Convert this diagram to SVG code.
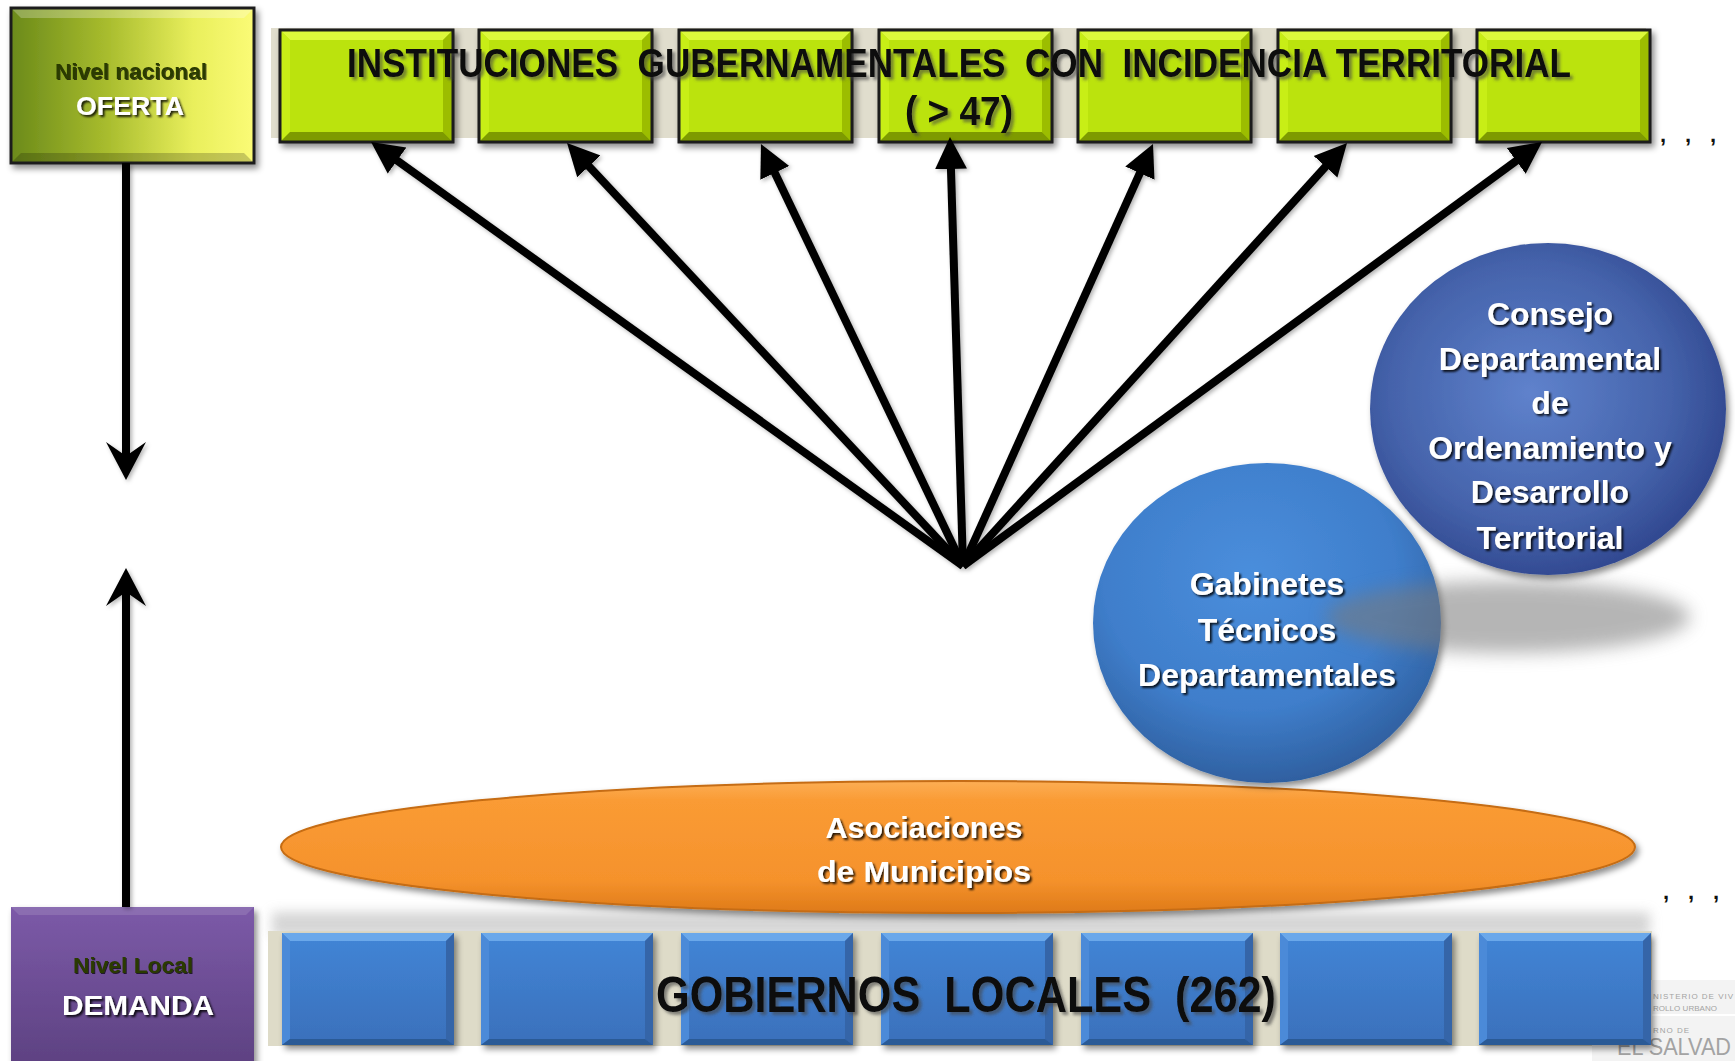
<svg xmlns="http://www.w3.org/2000/svg" xmlns:xlink="http://www.w3.org/1999/xlink" width="1735" height="1061" viewBox="0 0 1735 1061">
<style>
  .t { font-family: "Liberation Sans", Arial, sans-serif; font-weight: bold; text-anchor: middle; }
  .w { fill: #ffffff; filter: url(#tsd); }
  .blk { fill: #0a0a0a; filter: url(#tsg); }
  .olive { fill: #2c3a04; filter: url(#tsl); }
  .arrow { stroke: #000; stroke-width: 8; fill: none; stroke-linecap: butt; }
  .logo { font-family: "Liberation Sans", Arial, sans-serif; fill: #a3a3a3; }
  .dots { font-family: "Liberation Sans", Arial, sans-serif; font-weight: bold; font-size: 22px; fill: #111; }
</style>
<defs>
  <filter id="sh" x="-10%" y="-10%" width="130%" height="130%">
    <feDropShadow dx="3" dy="4" stdDeviation="3" flood-color="#000" flood-opacity="0.45"/>
  </filter>
  <filter id="ashd" x="-10%" y="-10%" width="130%" height="130%">
    <feDropShadow dx="2" dy="2" stdDeviation="2" flood-color="#000" flood-opacity="0.3"/>
  </filter>
  <filter id="tsd" x="-10%" y="-20%" width="130%" height="150%">
    <feDropShadow dx="2" dy="2" stdDeviation="0.8" flood-color="#000" flood-opacity="0.85"/>
  </filter>
  <filter id="tsg" x="-10%" y="-20%" width="130%" height="150%">
    <feDropShadow dx="3" dy="3" stdDeviation="1.5" flood-color="#444" flood-opacity="0.6"/>
  </filter>
  <filter id="tsl" x="-10%" y="-20%" width="130%" height="150%">
    <feDropShadow dx="1" dy="1" stdDeviation="0.6" flood-color="#000" flood-opacity="0.7"/>
  </filter>
  <filter id="blur8" x="-30%" y="-100%" width="160%" height="300%">
    <feGaussianBlur stdDeviation="9"/>
  </filter>
  <filter id="blur5" x="-10%" y="-100%" width="120%" height="300%">
    <feGaussianBlur stdDeviation="6"/>
  </filter>
  <linearGradient id="natGrad" x1="0" y1="0" x2="1" y2="0">
    <stop offset="0" stop-color="#6b8a1a"/>
    <stop offset="0.4" stop-color="#a9bd2e"/>
    <stop offset="0.75" stop-color="#e9ef5c"/>
    <stop offset="1" stop-color="#fbfb76"/>
  </linearGradient>
  <linearGradient id="purGrad" x1="0" y1="0" x2="0" y2="1">
    <stop offset="0" stop-color="#7c5aa8"/>
    <stop offset="1" stop-color="#5d4181"/>
  </linearGradient>
  <linearGradient id="blueGrad" x1="0" y1="0" x2="0" y2="1">
    <stop offset="0" stop-color="#4285d6"/>
    <stop offset="1" stop-color="#3a70bb"/>
  </linearGradient>
  <linearGradient id="orGrad" x1="0" y1="0" x2="0" y2="1">
    <stop offset="0" stop-color="#fcae55"/>
    <stop offset="0.15" stop-color="#fa9b34"/>
    <stop offset="0.75" stop-color="#f5922c"/>
    <stop offset="1" stop-color="#de7a18"/>
  </linearGradient>
  <radialGradient id="gabGrad" cx="0.45" cy="0.35" r="0.7">
    <stop offset="0" stop-color="#4a8edc"/>
    <stop offset="0.6" stop-color="#3f7ecb"/>
    <stop offset="1" stop-color="#2c5a98"/>
  </radialGradient>
  <radialGradient id="conGrad" cx="0.45" cy="0.45" r="0.65">
    <stop offset="0" stop-color="#5f82cc"/>
    <stop offset="0.6" stop-color="#4563ab"/>
    <stop offset="1" stop-color="#283c84"/>
  </radialGradient>
  <marker id="head" markerUnits="userSpaceOnUse" markerWidth="34" markerHeight="34" viewBox="0 -17 34 34" refX="12" refY="0" orient="auto">
    <path d="M32,0 L0,-16 L0,16 z" fill="#000"/>
  </marker>
  <marker id="barb" markerUnits="userSpaceOnUse" markerWidth="42" markerHeight="44" viewBox="0 -22 42 44" refX="18" refY="0" orient="auto">
    <path d="M38,0 L0,-20 L14,0 L0,20 z" fill="#000"/>
  </marker>
  <g id="gbox">
    <rect x="0" y="0" width="173" height="112" fill="#bbe308"/>
    <polygon points="0,0 173,0 163,10 10,10" fill="#dcf83a"/>
    <polygon points="0,0 10,10 10,102 0,112" fill="#c8ee18"/>
    <polygon points="173,0 173,112 163,102 163,10" fill="#9cbd06"/>
    <polygon points="0,112 10,102 163,102 173,112" fill="#7e9a05"/>
    <rect x="0" y="0" width="173" height="112" fill="none" stroke="#1c1c1c" stroke-width="3"/>
  </g>
  <g id="bbox">
    <rect x="0" y="0" width="172" height="112" fill="url(#blueGrad)"/>
    <polygon points="0,0 172,0 164,8 8,8" fill="#6aa8ea"/>
    <polygon points="0,0 8,8 8,106 0,112" fill="#4b8ad8"/>
    <polygon points="172,0 172,112 164,106 164,8" fill="#3465a8"/>
    <polygon points="0,112 8,106 164,106 172,112" fill="#2c5a96"/>
  </g>
</defs>

<rect x="0" y="0" width="1735" height="1061" fill="#ffffff"/>

<!-- bands -->
<g id="band-top">
  <rect x="271" y="28" width="1375" height="110" fill="#e0ddcd"/>
</g>
<g id="band-bottom">
  <rect x="272" y="912" width="1378" height="24" fill="#c4c4c4" opacity="0.7" filter="url(#blur5)"/>
  <rect x="268" y="931" width="1384" height="115" fill="#dedbc8"/>
</g>

<!-- logo fragment -->
<g id="logo">
  <rect x="1592" y="980" width="143" height="81" fill="#f3f3f3"/>
  <line x1="1652" y1="1015" x2="1735" y2="1015" stroke="#ffffff" stroke-width="2"/>
  <text class="logo" x="1653" y="999" font-size="8" textLength="80" lengthAdjust="spacing">NISTERIO DE VIV</text>
  <text class="logo" x="1653" y="1011" font-size="8" textLength="64" lengthAdjust="spacing">ROLLO URBANO</text>
  <text class="logo" x="1653" y="1033" font-size="8" textLength="36" lengthAdjust="spacing">RNO DE</text>
  <text class="logo" x="1617" y="1055" font-size="23" fill="#b0b0b0" textLength="114" lengthAdjust="spacingAndGlyphs">EL SALVAD</text>
</g>

<!-- Nivel nacional -->
<g id="nivel-nacional" filter="url(#sh)">
  <rect x="11" y="8" width="243" height="155" fill="url(#natGrad)"/>
  <polygon points="11,8 254,8 244,18 21,18" fill="#ffffff" opacity="0.25"/>
  <polygon points="11,163 21,153 244,153 254,163" fill="#000000" opacity="0.2"/>
  <rect x="11" y="8" width="243" height="155" fill="none" stroke="#1e1e1e" stroke-width="3"/>
</g>
<g id="nivel-nacional-text">
  <text class="t olive" x="131" y="79" font-size="22" textLength="152" lengthAdjust="spacingAndGlyphs">Nivel nacional</text>
  <text class="t w" x="130" y="115" font-size="26" textLength="108" lengthAdjust="spacingAndGlyphs">OFERTA</text>
</g>

<!-- Nivel local -->
<g id="nivel-local" filter="url(#sh)">
  <rect x="11" y="907" width="243" height="160" fill="url(#purGrad)"/>
  <polygon points="11,907 254,907 246,915 19,915" fill="#ffffff" opacity="0.12"/>
</g>
<g id="nivel-local-text">
  <text class="t olive" x="133" y="973" font-size="22" textLength="120" lengthAdjust="spacingAndGlyphs">Nivel Local</text>
  <text class="t w" x="138" y="1015" font-size="28" textLength="152" lengthAdjust="spacingAndGlyphs">DEMANDA</text>
</g>

<!-- Instituciones boxes -->
<g id="inst-1" filter="url(#sh)"><use xlink:href="#gbox" transform="translate(280,30)"/></g>
<g id="inst-2" filter="url(#sh)"><use xlink:href="#gbox" transform="translate(479,30)"/></g>
<g id="inst-3" filter="url(#sh)"><use xlink:href="#gbox" transform="translate(679,30)"/></g>
<g id="inst-4" filter="url(#sh)"><use xlink:href="#gbox" transform="translate(879,30)"/></g>
<g id="inst-5" filter="url(#sh)"><use xlink:href="#gbox" transform="translate(1078,30)"/></g>
<g id="inst-6" filter="url(#sh)"><use xlink:href="#gbox" transform="translate(1278,30)"/></g>
<g id="inst-7" filter="url(#sh)"><use xlink:href="#gbox" transform="translate(1477,30)"/></g>
<g id="instituciones-label">
  <text class="t blk" x="959" y="77" font-size="40" xml:space="preserve" textLength="1224" lengthAdjust="spacingAndGlyphs">INSTITUCIONES  GUBERNAMENTALES  CON  INCIDENCIA TERRITORIAL</text>
  <text class="t blk" x="959" y="125" font-size="40" xml:space="preserve" textLength="108" lengthAdjust="spacingAndGlyphs">( &gt; 47)</text>
  <text class="dots" x="1660 1685 1710" y="142">,,,</text>
</g>

<!-- Gobiernos locales boxes -->
<g id="gob-1" filter="url(#sh)"><use xlink:href="#bbox" transform="translate(282,933)"/></g>
<g id="gob-2" filter="url(#sh)"><use xlink:href="#bbox" transform="translate(481,933)"/></g>
<g id="gob-3" filter="url(#sh)"><use xlink:href="#bbox" transform="translate(681,933)"/></g>
<g id="gob-4" filter="url(#sh)"><use xlink:href="#bbox" transform="translate(881,933)"/></g>
<g id="gob-5" filter="url(#sh)"><use xlink:href="#bbox" transform="translate(1081,933)"/></g>
<g id="gob-6" filter="url(#sh)"><use xlink:href="#bbox" transform="translate(1280,933)"/></g>
<g id="gob-7" filter="url(#sh)"><use xlink:href="#bbox" transform="translate(1479,933)"/></g>
<g id="gobiernos-label">
  <text class="t blk" x="966" y="1012" font-size="50" xml:space="preserve" textLength="620" lengthAdjust="spacingAndGlyphs">GOBIERNOS  LOCALES  (262)</text>
  <text class="dots" x="1663 1688 1713" y="899">,,,</text>
</g>

<!-- Asociaciones de Municipios -->
<g id="asociaciones">
  <ellipse cx="958" cy="847" rx="677" ry="66" fill="url(#orGrad)" stroke="#c56c12" stroke-width="2" filter="url(#sh)"/>
  <text class="t w" x="924" y="838" font-size="30" textLength="197" lengthAdjust="spacingAndGlyphs">Asociaciones</text>
  <text class="t w" x="924" y="882" font-size="30" textLength="214" lengthAdjust="spacingAndGlyphs">de Municipios</text>
</g>

<!-- Gabinetes -->
<g id="gabinetes">
  <ellipse cx="1267" cy="623" rx="174" ry="160" fill="url(#gabGrad)" filter="url(#sh)"/>
</g>
<ellipse id="consejo-shadow" cx="1508" cy="617" rx="182" ry="36" fill="#7a7a7a" opacity="0.55" filter="url(#blur8)"/>
<g id="gabinetes-text">
  <text class="t w" x="1267" y="595" font-size="32">Gabinetes</text>
  <text class="t w" x="1267" y="641" font-size="32">Técnicos</text>
  <text class="t w" x="1267" y="686" font-size="32">Departamentales</text>
</g>

<!-- Consejo -->
<g id="consejo">
  <ellipse cx="1548" cy="409" rx="178" ry="166" fill="url(#conGrad)" filter="url(#sh)"/>
  <text class="t w" x="1550" y="325" font-size="32">Consejo</text>
  <text class="t w" x="1550" y="370" font-size="32">Departamental</text>
  <text class="t w" x="1550" y="414" font-size="32">de</text>
  <text class="t w" x="1550" y="459" font-size="32">Ordenamiento y</text>
  <text class="t w" x="1550" y="503" font-size="32">Desarrollo</text>
  <text class="t w" x="1550" y="549" font-size="32">Territorial</text>
</g>

<!-- connectors -->
<g id="connectors" filter="url(#ashd)">
  <line class="arrow" x1="963" y1="566" x2="387.3" y2="153.6" marker-end="url(#head)"/>
  <line class="arrow" x1="963" y1="566" x2="580.7" y2="157.6" marker-end="url(#head)"/>
  <line class="arrow" x1="963" y1="566" x2="769.6" y2="162" marker-end="url(#head)"/>
  <line class="arrow" x1="963" y1="566" x2="950.6" y2="157" marker-end="url(#head)"/>
  <line class="arrow" x1="963" y1="566" x2="1144.8" y2="162.2" marker-end="url(#head)"/>
  <line class="arrow" x1="963" y1="566" x2="1333.6" y2="157.8" marker-end="url(#head)"/>
  <line class="arrow" x1="963" y1="566" x2="1525.9" y2="153.8" marker-end="url(#head)"/>
  <line class="arrow" x1="126" y1="163" x2="126" y2="460" marker-end="url(#barb)"/>
  <line class="arrow" x1="126" y1="907" x2="126" y2="588" marker-end="url(#barb)"/>
</g>
</svg>
